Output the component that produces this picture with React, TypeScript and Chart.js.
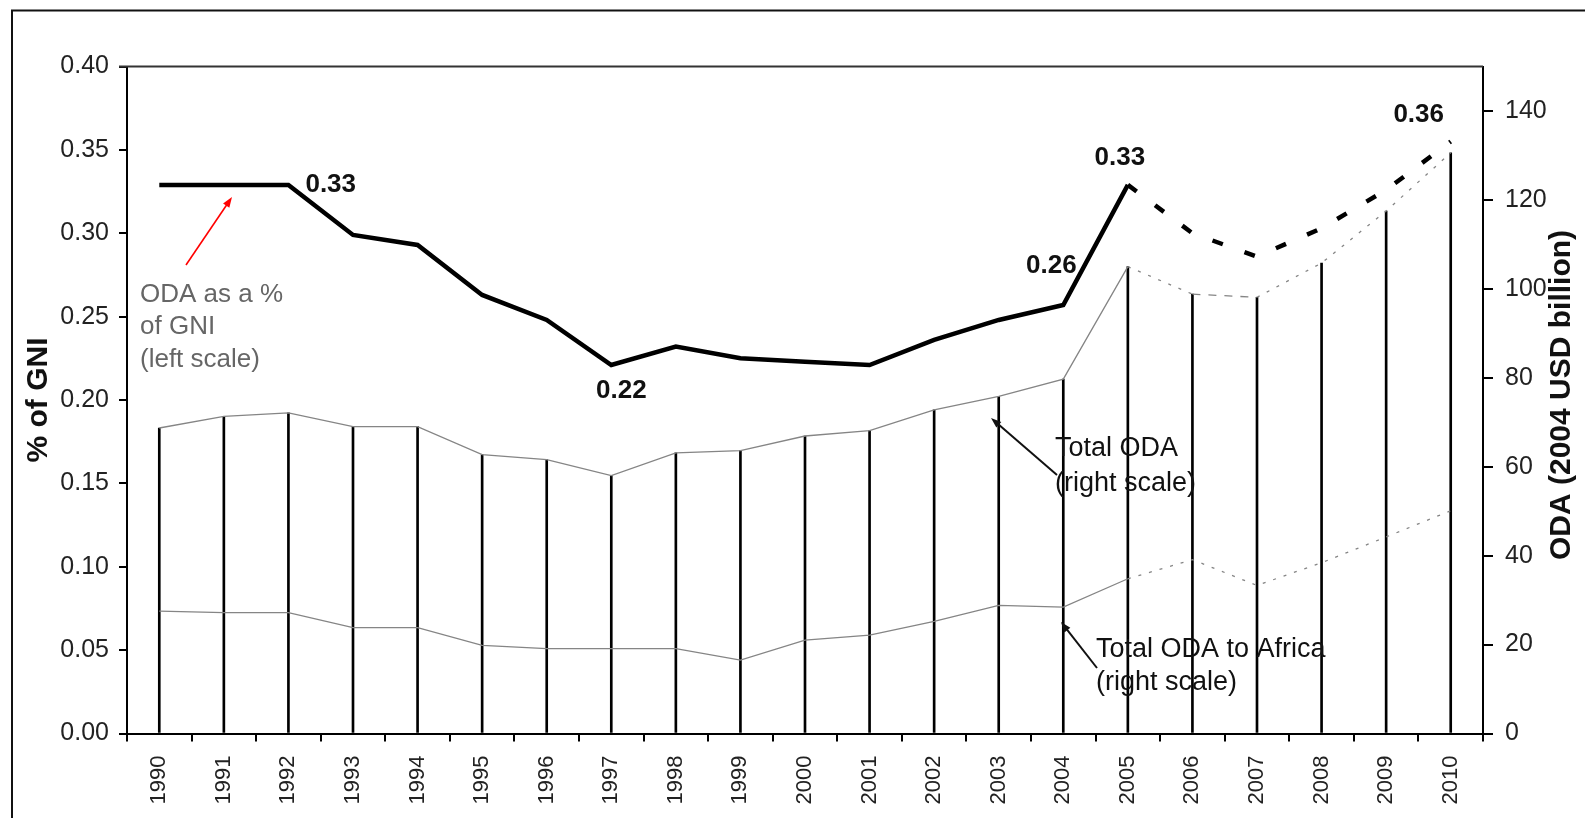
import React, { useEffect, useRef } from "react";
import { Chart, registerables } from "chart.js";

Chart.register(...registerables);

const years = ["1990","1991","1992","1993","1994","1995","1996","1997","1998","1999","2000","2001","2002","2003","2004","2005","2006","2007","2008","2009","2010"];
const odaPctGni = [0.329,0.329,0.329,0.299,0.293,0.263,0.248,0.221,0.232,0.225,0.223,0.221,0.236,0.248,0.257,0.329,0.300,0.286,0.303,0.326,0.355];
const totalOda = [68.7,71.3,72.1,69.0,69.0,62.7,61.6,58.0,63.1,63.6,66.9,68.1,72.8,75.8,79.7,105.0,98.8,98.1,105.8,117.5,130.6];
const africaOda = [27.5,27.2,27.2,23.8,23.8,19.8,19.1,19.1,19.1,16.5,21.0,22.1,25.2,28.8,28.4,34.8,39.1,33.3,38.4,44.2,50.1];
const projectionStart = 15; // index of 2005
const labelledPoints = [
  { idx: 2, text: "0.33", dx: 17, dy: 0, align: "left" },
  { idx: 7, text: "0.22", dx: 10, dy: 26, align: "center" },
  { idx: 14, text: "0.26", dx: -12, dy: -39, align: "center" },
  { idx: 15, text: "0.33", dx: -8, dy: -27, align: "center" },
  { idx: 20, text: "0.36", dx: -32, dy: -27, align: "center" },
];

const FONT = "'Liberation Sans', Arial, Helvetica, sans-serif";

function arrow(ctx: CanvasRenderingContext2D, x1: number, y1: number, x2: number, y2: number, color: string, w: number) {
  const ang = Math.atan2(y2 - y1, x2 - x1);
  const hl = 11;
  ctx.save();
  ctx.strokeStyle = color;
  ctx.fillStyle = color;
  ctx.lineWidth = w;
  ctx.beginPath();
  ctx.moveTo(x1, y1);
  ctx.lineTo(x2 - Math.cos(ang) * hl * 0.6, y2 - Math.sin(ang) * hl * 0.6);
  ctx.stroke();
  ctx.beginPath();
  ctx.moveTo(x2, y2);
  ctx.lineTo(x2 - hl * Math.cos(ang - 0.35), y2 - hl * Math.sin(ang - 0.35));
  ctx.lineTo(x2 - hl * Math.cos(ang + 0.35), y2 - hl * Math.sin(ang + 0.35));
  ctx.closePath();
  ctx.fill();
  ctx.restore();
}

const decorPlugin = {
  id: "decor",
  afterDraw(chart: any) {
    const ctx: CanvasRenderingContext2D = chart.ctx;
    const area = chart.chartArea;
    ctx.save();
    // outer frame
    ctx.strokeStyle = "#111";
    ctx.lineWidth = 2;
    ctx.beginPath();
    ctx.moveTo(12, 830);
    ctx.lineTo(12, 10.5);
    ctx.lineTo(1600, 10.5);
    ctx.stroke();
    // top border of plot
    ctx.strokeStyle = "#333";
    ctx.beginPath();
    ctx.moveTo(area.left - 8, area.top);
    ctx.lineTo(area.right, area.top);
    ctx.stroke();

    // axis titles
    ctx.fillStyle = "#111";
    ctx.font = `bold 30px ${FONT}`;
    ctx.textAlign = "center";
    ctx.textBaseline = "middle";
    ctx.save();
    ctx.translate(39, 400);
    ctx.rotate(-Math.PI / 2);
    ctx.fillText("% of GNI", 0, 0);
    ctx.restore();
    ctx.save();
    ctx.translate(1562, 395);
    ctx.rotate(-Math.PI / 2);
    ctx.fillText("ODA (2004 USD billion)", 0, 0);
    ctx.restore();

    // data labels
    const meta = chart.getDatasetMeta(0);
    ctx.font = `bold 26px ${FONT}`;
    ctx.fillStyle = "#111";
    for (const l of labelledPoints) {
      const p = meta.data[l.idx];
      ctx.textAlign = l.align as CanvasTextAlign;
      ctx.fillText(l.text, p.x + l.dx, p.y + l.dy);
    }

    // annotations
    ctx.textAlign = "left";
    ctx.font = `26px ${FONT}`;
    ctx.fillStyle = "#666";
    ctx.fillText("ODA as a %", 140, 295);
    ctx.fillText("of GNI", 140, 327);
    ctx.fillText("(left scale)", 140, 360);
    arrow(ctx, 186, 265, 232, 197, "#ff0000", 1.6);

    ctx.fillStyle = "#111";
    ctx.font = `27px ${FONT}`;
    ctx.fillText("Total ODA", 1055, 449);
    ctx.fillText("(right scale)", 1055, 484);
    arrow(ctx, 1057, 475, 991, 418, "#111", 2);

    ctx.fillText("Total ODA to Africa", 1096, 650);
    ctx.fillText("(right scale)", 1096, 683);
    arrow(ctx, 1097, 668, 1061, 622, "#111", 2);
    ctx.restore();
  },
};

export default function App() {
  const ref = useRef<HTMLCanvasElement>(null);
  useEffect(() => {
    if (!ref.current) return;
    const proj = (ctx: any) => ctx.p0DataIndex >= projectionStart;
    const chart = new Chart(ref.current, {
      type: "bar",
      data: {
        labels: years,
        datasets: [
          {
            type: "line",
            label: "ODA as a % of GNI",
            data: odaPctGni,
            yAxisID: "y",
            borderColor: "#000",
            borderWidth: 4.5,
            pointRadius: 0,
            tension: 0,
            order: 0,
            segment: { borderDash: (ctx: any) => (proj(ctx) ? [11, 23] : undefined) },
          } as any,
          {
            type: "line",
            label: "Total ODA",
            data: totalOda,
            yAxisID: "y2",
            borderColor: "#858585",
            borderWidth: 1.3,
            pointRadius: 0,
            tension: 0,
            order: 1,
            segment: {
              borderDash: (ctx: any) => (ctx.p0DataIndex === 16 ? [8, 8] : proj(ctx) ? [3, 8] : undefined),
            },
          } as any,
          {
            type: "line",
            label: "Total ODA to Africa",
            data: africaOda,
            yAxisID: "y2",
            borderColor: "#858585",
            borderWidth: 1.3,
            pointRadius: 0,
            tension: 0,
            order: 1,
            segment: { borderDash: (ctx: any) => (proj(ctx) ? [3, 8] : undefined) },
          } as any,
          {
            type: "bar",
            label: "Total ODA bars",
            data: totalOda,
            yAxisID: "y2",
            backgroundColor: "#000",
            barThickness: 2,
            order: 2,
          },
        ],
      },
      options: {
        animation: false,
        responsive: true,
        maintainAspectRatio: false,
        layout: { padding: { top: 66.5, left: 0, right: 0, bottom: 0 } },
        plugins: { legend: { display: false }, tooltip: { enabled: false } },
        scales: {
          x: {
            type: "category",
            offset: true,
            grid: { offset: true, drawOnChartArea: false, drawTicks: true, tickLength: 8, color: "#000", lineWidth: 2 },
            border: { display: true, color: "#000", width: 2 },
            ticks: { minRotation: 90, maxRotation: 90, autoSkip: false, padding: 14, color: "#222", font: { size: 22, family: FONT } },
            afterFit: (s: any) => { s.height = 84.5; },
          },
          y: {
            position: "left",
            min: 0,
            max: 0.4,
            grid: { drawOnChartArea: false, tickLength: 8, color: "#000", lineWidth: 2 },
            border: { display: true, color: "#000", width: 2 },
            ticks: { stepSize: 0.05, padding: 10, color: "#222", font: { size: 25, family: FONT }, callback: (v: any) => Number(v).toFixed(2) },
            afterFit: (s: any) => { s.width = 127; },
          },
          y2: {
            position: "right",
            min: 0,
            max: 150,
            grid: { drawOnChartArea: false, tickLength: 10, color: "#000", lineWidth: 2 },
            border: { display: true, color: "#000", width: 2 },
            ticks: { stepSize: 20, includeBounds: false, padding: 12, color: "#222", font: { size: 25, family: FONT } },
            afterFit: (s: any) => { s.width = 102; },
          },
        },
      } as any,
      plugins: [decorPlugin],
    });
    return () => chart.destroy();
  }, []);
  return (
    <div style={{ position: "fixed", left: 0, top: 0, width: 1585, height: 818, background: "#fff" }}>
      <canvas ref={ref} />
    </div>
  );
}
